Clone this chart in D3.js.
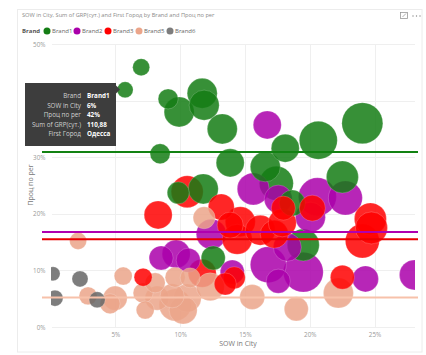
<!DOCTYPE html>
<html><head><meta charset="utf-8">
<script src="https://cdn.jsdelivr.net/npm/d3@7"></script>
<style>
html,body{margin:0;padding:0;background:#fff;}
svg{display:block;font-family:"Open Sans",sans-serif;}
</style></head>
<body><svg id="c" width="426" height="355"></svg>
<script>
// ---- data ----
const titleText = "SOW in City, Sum of GRP(сут.) and First Город by Brand and Проц по рег";
const brandNames = ["Brand1","Brand2","Brand3","Brand5","Brand6"];
const brandColors = ["#147d14","#aa00aa","#ff0000","#eba58a","#666666"];
const xTicks = [5,10,15,20,25];
const yTicks = [0,10,20,30,40,50];
// [SOW in City %, Проц по рег %, Sum of GRP]
const brand1 = [[5.75,41.9,110.88],[6.99,45.9,125],[9.07,40.3,173],[9.92,38.0,390],[11.70,41.3,390],[11.85,39.2,390],
  [13.25,35.0,390],[8.45,30.6,173],[13.86,29.0,340],[18.11,31.6,340],[20.66,33.0,625],[24.06,36.0,728],
  [16.57,28.3,390],[17.42,25.4,500],[22.52,26.5,444],[18.65,21.9,293],[19.5,14.5,444],[9.85,23.7,210],
  [11.78,24.4,390],[12.55,12.2,250]];
const brand2 = [[16.72,35.7,340],[15.64,24.4,444],[17.57,22.6,340],[20.59,23.0,625],[22.75,22.8,500],[20.05,19.4,390],
  [12.40,16.4,390],[18.27,14.1,340],[16.80,11.0,560],[19.5,9.7,690],[17.57,8.1,250],[24.3,8.5,293],
  [28.08,9.2,390],[8.53,12.2,250],[9.69,12.9,340],[10.62,11.8,250],[14.02,9.7,250]];
const brand3 = [[8.30,19.8,340],[10.54,23.9,444],[13.17,21.2,293],[14.64,18.6,390],[14.40,15.5,390],[16.18,17.1,390],
  [17.26,16.4,340],[17.88,18.4,340],[17.96,21.0,250],[20.20,21.0,293],[24.68,19.1,444],[24.76,17.5,444],
  [24.06,15.2,500],[22.52,8.8,250],[11.70,9.5,340],[14.17,8.7,210],[13.48,7.6,210],[7.14,8.8,140],[13.86,18.0,293]];
const brand5 = [[2.12,15.2,125],[5.60,9.0,140],[2.89,5.5,140],[4.98,5.1,250],[4.59,4.1,173],[7.14,6.0,173],
  [7.30,3.0,140],[8.07,7.8,173],[8.22,5.1,250],[9.61,8.8,173],[9.38,5.5,250],[9.61,3.9,444],[10.54,5.1,340],
  [10.77,8.7,173],[10.23,3.0,340],[12.32,7.1,340],[11.85,19.3,210],[15.56,5.3,270],[18.96,3.2,250],[22.21,6.0,390]];
const brand6 = [[0.19,9.4,85],[2.27,8.5,111],[0.34,5.1,111],[3.59,4.8,111]];
const brandLines = [30.9,16.8,15.5,5.2]; // Brand1, Brand2, Brand3, Brand5
const lineColors = ["#128212","#b000b0","#e80000","#f7c1aa"];
const tipLabels = ["Brand","SOW in City","Проц по рег","Sum of GRP(сут.)","First Город"];
const tipValues = ["Brand1","6%","42%","110,88","Одесса"];

// ---- chart ----
const svg = d3.select("#c");
const x = d3.scaleLinear().domain([0,28.1]).range([50.6,414.7]);
const y = d3.scaleLinear().domain([0,50]).range([327,44]);
const r = d3.scaleSqrt().domain([0,800]).range([0,21.5]);

// container border
svg.append("rect").attr("x",17.5).attr("y",9.5).attr("width",404.5).attr("height",342.5)
  .attr("fill","none").attr("stroke","#ececec");

svg.append("text").attr("x",22).attr("y",17).attr("font-size",5.7).attr("fill","#8a8a8a").text(titleText);
// header icons
const ic = svg.append("g").attr("stroke","#9a9a9a").attr("fill","none").attr("stroke-width",0.8);
ic.append("rect").attr("x",400.5).attr("y",12.5).attr("width",7).attr("height",6);
ic.append("path").attr("d","M402.5 17 L406 13.5");
[413,416.5,420].forEach(cx=>svg.append("circle").attr("cx",cx).attr("cy",16).attr("r",0.7).attr("fill","#888"));

// legend
const lg = svg.append("g").attr("font-size",6);
lg.append("text").attr("x",22).attr("y",33).attr("font-weight","bold").attr("fill","#555").text("Brand");
const legX = [47,77,108,139,170];
brandNames.forEach((b,i)=>{
  lg.append("circle").attr("cx",legX[i]).attr("cy",31).attr("r",3.5).attr("fill",brandColors[i]).attr("fill-opacity",i===4?0.85:1);
  lg.append("text").attr("x",legX[i]+5).attr("y",33).attr("fill","#666").text(b);
});

// grid
const grid = svg.append("g").attr("stroke","#efefef").attr("stroke-width",1);
yTicks.forEach(t=>grid.append("line").attr("x1",52).attr("x2",415).attr("y1",Math.round(y(t))+0.5).attr("y2",Math.round(y(t))+0.5));
xTicks.forEach(t=>grid.append("line").attr("y1",44).attr("y2",327).attr("x1",Math.round(x(t))+0.5).attr("x2",Math.round(x(t))+0.5));

// axes
const yAxis = d3.axisLeft(y).tickValues(yTicks).tickFormat(d=>d+"%").tickSize(0).tickPadding(0);
const ya = svg.append("g").attr("transform","translate(45.5,0)").call(yAxis);
const xAxis = d3.axisBottom(x).tickValues(xTicks).tickFormat(d=>d+"%").tickSize(0).tickPadding(0);
const xa = svg.append("g").attr("transform","translate(0,333)").call(xAxis);
[ya,xa].forEach(a=>{a.select(".domain").remove();a.selectAll("text").attr("fill","#999").attr("font-size",6.3).attr("font-family","Open Sans");});
svg.append("text").attr("x",238).attr("y",346).attr("text-anchor","middle").attr("font-size",7).attr("fill","#777").text("SOW in City");
svg.append("text").attr("transform","translate(33,185) rotate(-90)").attr("text-anchor","middle").attr("font-size",7).attr("fill","#777").text("Проц по рег");

// clip
svg.append("clipPath").attr("id","pc").append("rect").attr("x",51).attr("y",20).attr("width",364).attr("height",330);

// bubbles
const all = [];
[brand1,brand2,brand3,brand5,brand6].forEach((arr,i)=>arr.forEach(p=>all.push({x:p[0],y:p[1],s:p[2],c:brandColors[i]})));
all.sort((a,b)=>b.s-a.s);
svg.append("g").attr("clip-path","url(#pc)").selectAll("circle").data(all).join("circle")
  .attr("cx",d=>x(d.x)).attr("cy",d=>y(d.y)).attr("r",d=>r(d.s))
  .attr("fill",d=>d.c).attr("fill-opacity",0.85).attr("stroke","#fff").attr("stroke-opacity",0.25).attr("stroke-width",0.8);

// brand lines
brandLines.forEach((v,i)=>svg.append("line").attr("x1",42).attr("x2",418).attr("y1",y(v)).attr("y2",y(v))
  .attr("stroke",lineColors[i]).attr("stroke-width",2));

// tooltip
const tp = svg.append("g");
tp.append("rect").attr("x",25).attr("y",83).attr("width",91).attr("height",63).attr("fill","#3d3d3d");
tp.append("path").attr("d","M116 85.5 L120 89.5 L116 93.5 Z").attr("fill","#3d3d3d");
tipLabels.forEach((l,i)=>{
  const yy = 98.3 + i*9.4;
  tp.append("text").attr("x",81).attr("y",yy).attr("text-anchor","end").attr("font-size",6.3).attr("fill","#d0d0d0").text(l);
  tp.append("text").attr("x",87).attr("y",yy).attr("font-size",6.3).attr("font-weight","bold").attr("fill","#fff").text(tipValues[i]);
});
</script></body></html>
